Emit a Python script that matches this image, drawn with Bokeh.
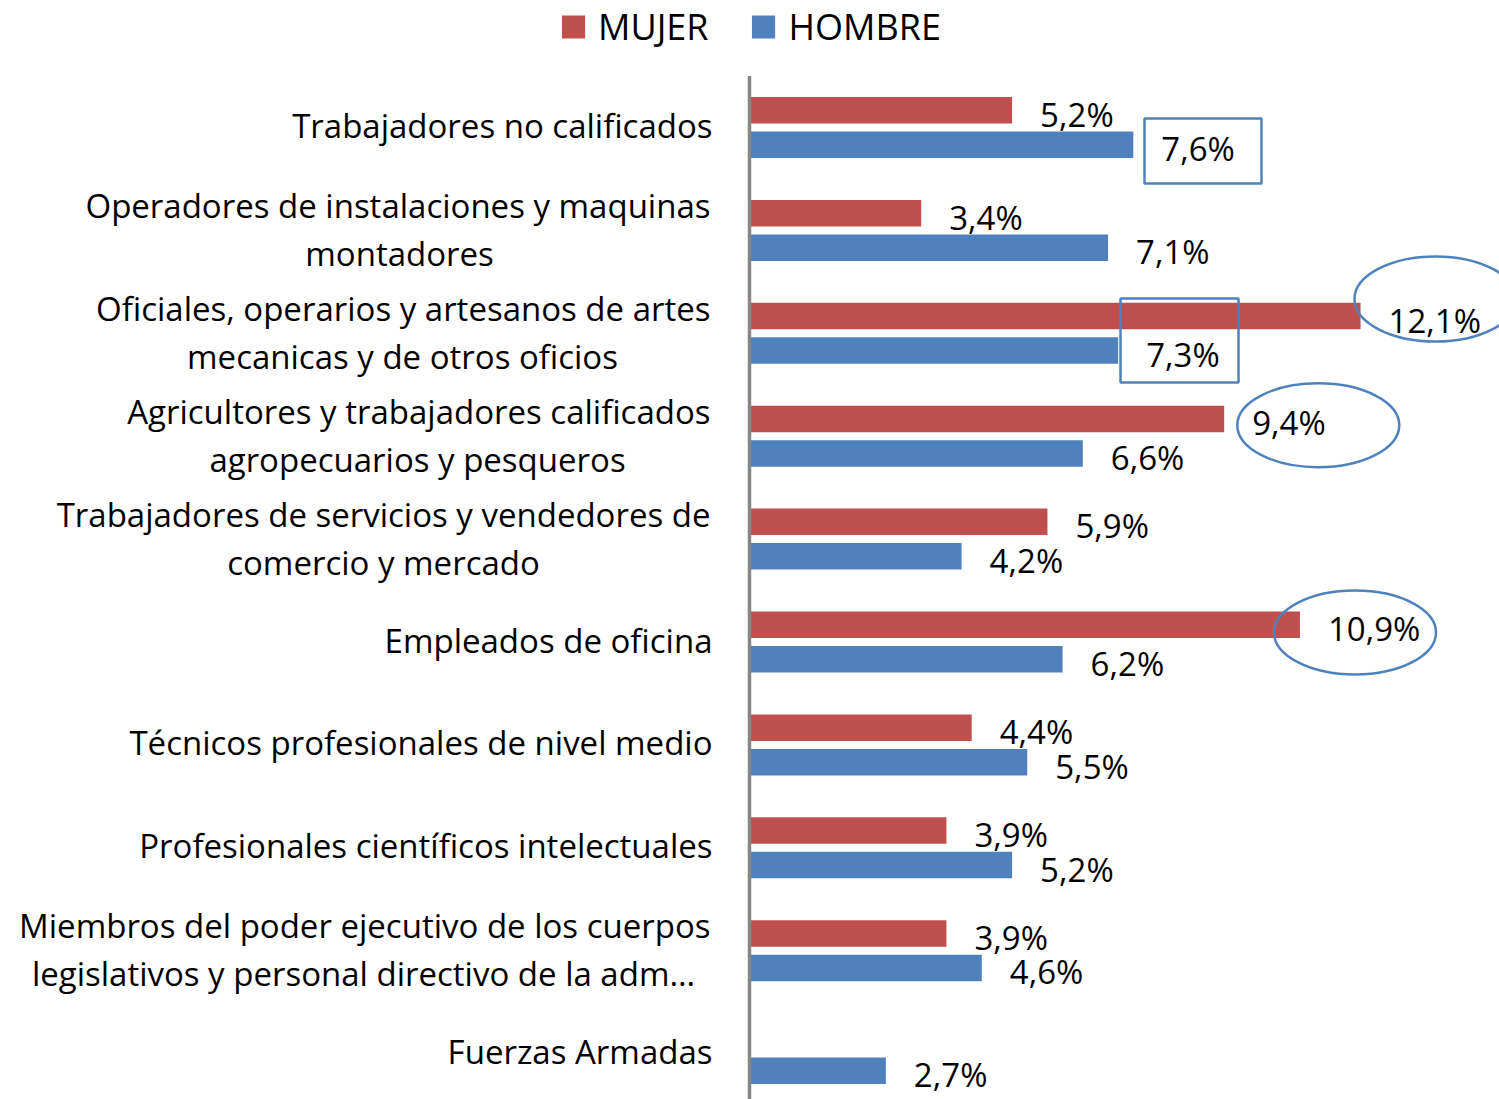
from bokeh.plotting import figure
from bokeh.models import ColumnDataSource, Range1d, Legend, LegendItem
from bokeh.transform import dodge
from bokeh.core.properties import value
from bokeh.embed import file_html
from bokeh.resources import INLINE

# ---------------- data ----------------
categories = [
    "Trabajadores no calificados",
    "Operadores de instalaciones y maquinas\nmontadores",
    "Oficiales, operarios y artesanos de artes\nmecanicas y de otros oficios",
    "Agricultores y trabajadores calificados\nagropecuarios y pesqueros",
    "Trabajadores de servicios y vendedores de\ncomercio y mercado",
    "Empleados de oficina",
    "Técnicos profesionales de nivel medio",
    "Profesionales científicos intelectuales",
    "Miembros del poder ejecutivo de los cuerpos\nlegislativos y personal directivo de la adm…",
    "Fuerzas Armadas",
]
mujer = [5.2, 3.4, 12.1, 9.4, 5.9, 10.9, 4.4, 3.9, 3.9, None]
hombre = [7.6, 7.1, 7.3, 6.6, 4.2, 6.2, 5.5, 5.2, 4.6, 2.7]
series_names = ["MUJER", "HOMBRE"]

# highlighted labels: (series, category index, shape)
highlights = [
    ("HOMBRE", 0, "rect"),
    ("HOMBRE", 2, "rect"),
    ("MUJER", 2, "ellipse"),
    ("MUJER", 3, "ellipse"),
    ("MUJER", 5, "ellipse"),
]

# ---------------- style / layout ----------------
RED = "#C0504D"
BLUE = "#4F81BD"
AXIS_GRAY = "#868686"
FONT = "Open Sans"
W, H = 1499, 1099
PX_PER_UNIT_X = 50.5
PX_PER_CAT = 102.9
AXIS_CANVAS_X = 749
FIRST_CAT_CANVAS_Y = 127
BAR_H = 0.2575
BAR_OFF = 0.1676
CAT_FS = "33px"
VAL_FS = "33px"
# offsets (px) of second-line centres of wrapped category labels, from the axis
line2_center_offset = {1: -350, 2: -347, 3: -332, 4: -366, 8: -386}
# placement of highlight shapes relative to labelled bar end / bar centre
# (dx in value units, dy in category units, width px, height px)
highlight_geom = {
    ("HOMBRE", 0): (1.38, 0.061, 117, 65),
    ("HOMBRE", 2): (1.215, -0.098, 118, 84),
    ("MUJER", 2): (1.484, -0.166, 162, 85),
    ("MUJER", 3): (1.863, 0.061, 162, 84),
    ("MUJER", 5): (1.090, 0.075, 162, 84),
}

n = len(categories)
idx = list(range(n))
nan = float("nan")
src = ColumnDataSource(dict(
    idx=idx,
    mujer=[nan if v is None else v for v in mujer],
    hombre=hombre,
))

x_start = -AXIS_CANVAS_X / PX_PER_UNIT_X
x_end = (W - AXIS_CANVAS_X) / PX_PER_UNIT_X
y_top = -FIRST_CAT_CANVAS_Y / PX_PER_CAT
y_bottom = (H - FIRST_CAT_CANVAS_Y) / PX_PER_CAT

p = figure(width=W, height=H, output_backend="svg", toolbar_location=None,
           x_range=Range1d(x_start, x_end), y_range=Range1d(y_bottom, y_top),
           x_axis_location=None, y_axis_location=None, min_border=0)
p.grid.visible = False
p.outline_line_color = None
p.background_fill_color = "white"
p.border_fill_color = "white"

r_m = p.hbar(y=dodge("idx", -BAR_OFF, range=p.y_range), left=0, right="mujer",
             height=BAR_H, source=src, fill_color=RED, line_color=None)
r_h = p.hbar(y=dodge("idx", BAR_OFF, range=p.y_range), left=0, right="hombre",
             height=BAR_H, source=src, fill_color=BLUE, line_color=None)

# vertical category axis line spanning the category bands
p.segment(x0=[0], y0=[-0.5], x1=[0], y1=[n - 0.5], line_color=AXIS_GRAY, line_width=3.5)

# data labels
def fmt(v):
    return f"{v:.1f}".replace(".", ",") + "%"

lab = dict(x=[], y=[], t=[])
for i in idx:
    for vals, off in ((mujer, -BAR_OFF), (hombre, BAR_OFF)):
        v = vals[i]
        if v is None:
            continue
        lab["x"].append(v)
        lab["y"].append(i + off)
        lab["t"].append(fmt(v))
p.text(x="x", y="y", text="t", source=ColumnDataSource(lab), x_offset=28, y_offset=4,
       text_font=value(FONT), text_font_size=VAL_FS, text_color="black",
       text_align="left", text_baseline="middle")

# category labels
right_lines = dict(y=[], t=[], yo=[], xo=[])
center_lines = dict(y=[], t=[], yo=[], xo=[])
for i, c in enumerate(categories):
    parts = c.split("\n")
    if len(parts) == 1:
        right_lines["y"].append(i); right_lines["t"].append(parts[0])
        right_lines["yo"].append(-2); right_lines["xo"].append(-37)
    else:
        right_lines["y"].append(i); right_lines["t"].append(parts[0])
        right_lines["yo"].append(-25); right_lines["xo"].append(-39)
        center_lines["y"].append(i); center_lines["t"].append(parts[1])
        center_lines["yo"].append(23); center_lines["xo"].append(line2_center_offset[i])
right_lines["x"] = [0] * len(right_lines["y"])
center_lines["x"] = [0] * len(center_lines["y"])
p.text(x="x", y="y", text="t", x_offset="xo", y_offset="yo", source=ColumnDataSource(right_lines),
       text_font=value(FONT), text_font_size=CAT_FS, text_color="black",
       text_align="right", text_baseline="middle")
p.text(x="x", y="y", text="t", x_offset="xo", y_offset="yo", source=ColumnDataSource(center_lines),
       text_font=value(FONT), text_font_size=CAT_FS, text_color="black",
       text_align="center", text_baseline="middle")

# highlight shapes
series_vals = {"MUJER": mujer, "HOMBRE": hombre}
rects = dict(x=[], y=[], w=[], h=[])
ells = dict(x=[], y=[], w=[], h=[])
for s, i, shape in highlights:
    dx, dy, w, h = highlight_geom[(s, i)]
    off = -BAR_OFF if s == "MUJER" else BAR_OFF
    d = rects if shape == "rect" else ells
    d["x"].append(series_vals[s][i] + dx)
    d["y"].append(i + off + dy)
    d["w"].append(w)
    d["h"].append(h)
p.rect(x="x", y="y", width="w", height="h", width_units="screen", height_units="screen",
       source=ColumnDataSource(rects), fill_color=None, line_color=BLUE, line_width=2.5)
p.ellipse(x="x", y="y", width="w", height="h", width_units="screen", height_units="screen",
          source=ColumnDataSource(ells), fill_color=None, line_color=BLUE, line_width=2.5)

legend = Legend(items=[LegendItem(label=series_names[0], renderers=[r_m]),
                       LegendItem(label=series_names[1], renderers=[r_h])],
                orientation="horizontal", location="top_center",
                glyph_width=29, glyph_height=29, label_standoff=11, spacing=40,
                padding=0, margin=2, border_line_color=None, background_fill_alpha=0,
                label_text_font=FONT, label_text_font_size="36px", label_text_color="black")
p.add_layout(legend)

open("out.html", "w").write(file_html(p, INLINE))
